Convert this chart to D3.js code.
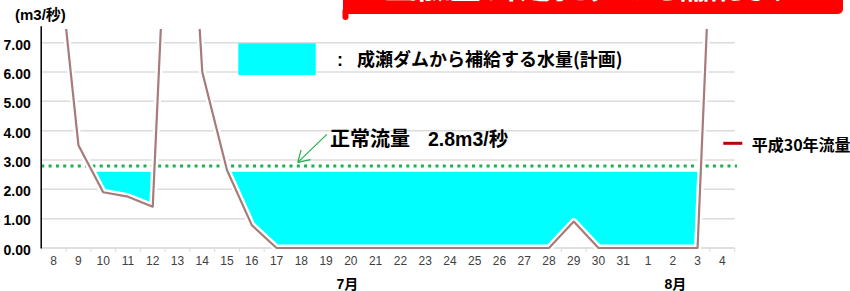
<!DOCTYPE html>
<html>
<head>
<meta charset="utf-8">
<script src="https://cdn.jsdelivr.net/npm/d3@7"></script>
<style>
  body { margin: 0; background: #fff; }
  svg { display: block; }
</style>
</head>
<body>
<script>
// categories: July 8 .. Aug 4
const days = ["8","9","10","11","12","13","14","15","16","17","18","19","20","21","22",
              "23","24","25","26","27","28","29","30","31","1","2","3","4"];
// H30 river flow (m3/s), values above the plot are clipped
const flow = [11.5, 3.5, 1.9, 1.75, 1.41, 20, 6.0, 2.65, 0.78, 0,
              0, 0, 0, 0, 0, 0, 0, 0, 0, 0,
              0, 0.9, 0, 0, 0, 0, 0, 20];
const yTicks = [0, 1, 2, 3, 4, 5, 6, 7];
const normalFlow = 2.8;
const supplyLevel = 2.6;
// planned supply periods (start day, end day)
const supplyRanges = [["9", "12"], ["15", "3"]];
const months = [{label: "7月", day: "20"}, {label: "8月", day: "2"}];

const W = 850, H = 291;
const jp = "'Liberation Sans', 'Noto Sans CJK JP', sans-serif";

const svg = d3.select("body").append("svg")
    .attr("width", W)
    .attr("height", H);

const x = d3.scaleBand().domain(days).range([41.3, 734.7]).padding(0);
const cx = d => x(d) + x.bandwidth() / 2;
const y = d3.scaleLinear().domain([0, 7.58]).range([248, 25.7]);

// banner at top (mostly cut off)
svg.append("rect")
    .attr("x", 343).attr("y", -12)
    .attr("width", 500).attr("height", 26)
    .attr("rx", 5)
    .attr("fill", "#ff0000");
svg.append("rect")
    .attr("x", 342.5).attr("y", 8)
    .attr("width", 6).attr("height", 12)
    .attr("rx", 3)
    .attr("fill", "#ff0000");
svg.append("text")
    .attr("x", 590).attr("y", -1.5)
    .attr("text-anchor", "middle")
    .attr("textLength", 410)
    .attr("font-family", jp)
    .attr("font-weight", "bold")
    .attr("font-size", 28)
    .attr("fill", "#fff")
    .text("正常流量の不足分をダムから補給します");

// gridlines
svg.append("g")
    .selectAll("line")
    .data(yTicks.filter(d => d > 0))
    .join("line")
    .attr("x1", 41.3).attr("x2", 734.7)
    .attr("y1", d => y(d)).attr("y2", d => y(d))
    .attr("stroke", "#dcdcdc")
    .attr("stroke-width", 1.5);

// x axis base line + boundary ticks
svg.append("line")
    .attr("x1", 41.3).attr("x2", 734.7)
    .attr("y1", y(0)).attr("y2", y(0))
    .attr("stroke", "#d4d4d4")
    .attr("stroke-width", 1.5);
svg.append("g")
    .selectAll("line")
    .data(days.slice(1).concat(["end"]))
    .join("line")
    .attr("x1", d => d === "end" ? x.range()[1] : x(d))
    .attr("x2", d => d === "end" ? x.range()[1] : x(d))
    .attr("y1", y(0)).attr("y2", y(0) + 4)
    .attr("stroke", "#e0e0e0")
    .attr("stroke-width", 1.2);

// supply fill: between the flow line and the supply level
const byDay = new Map(days.map((d, i) => [d, flow[i]]));
supplyRanges.forEach(([s, e]) => {
    const sub = days.slice(days.indexOf(s), days.indexOf(e) + 1);
    const pts = [];
    sub.forEach((d, i) => {
        const v = byDay.get(d);
        pts.push([cx(d), y(Math.min(v, supplyLevel))]);
        if (i < sub.length - 1) {
            const n = sub[i + 1], v2 = byDay.get(n);
            if ((v - supplyLevel) * (v2 - supplyLevel) < 0) {
                const t = (supplyLevel - v) / (v2 - v);
                pts.push([cx(d) + t * (cx(n) - cx(d)), y(supplyLevel)]);
            }
        }
    });
    pts.push([cx(e), y(supplyLevel)]);
    pts.push([cx(s), y(supplyLevel)]);
    svg.append("path")
        .attr("d", d3.line()(pts) + "Z")
        .attr("fill", "#00ffff");
});

// normal flow dotted line
svg.append("line")
    .attr("x1", 41.3).attr("x2", 737)
    .attr("y1", y(normalFlow)).attr("y2", y(normalFlow))
    .attr("stroke", "#1db04f")
    .attr("stroke-width", 3)
    .attr("stroke-dasharray", "3,4.3");

// flow line (clipped at top)
svg.append("clipPath").attr("id", "plotclip")
    .append("rect")
    .attr("x", 41.3).attr("y", 29)
    .attr("width", 700).attr("height", 230);

const line = d3.line()
    .x((d, i) => cx(days[i]))
    .y(d => y(d));

const lg = svg.append("g").attr("clip-path", "url(#plotclip)");
lg.append("path")
    .datum(flow)
    .attr("d", line)
    .attr("fill", "none")
    .attr("stroke", "#fff")
    .attr("stroke-width", 7)
    .attr("stroke-linejoin", "round");
lg.append("path")
    .datum(flow)
    .attr("d", line)
    .attr("fill", "none")
    .attr("stroke", "#a87a7a")
    .attr("stroke-width", 2.2)
    .attr("stroke-linejoin", "round");

// y axis
const yAxis = svg.append("g")
    .attr("transform", "translate(40.7,0)")
    .call(d3.axisLeft(y).tickValues(yTicks).tickFormat(d3.format(".2f"))
        .tickSize(0).tickPadding(10));
yAxis.select(".domain").attr("stroke", "#000").attr("stroke-width", 1.5);
yAxis.selectAll("text")
    .attr("font-family", "'Liberation Sans', Arial, sans-serif")
    .attr("font-weight", "bold")
    .attr("font-size", 14)
    .attr("fill", "#000")
    .attr("dy", "0.45em");

svg.append("text")
    .attr("x", 15).attr("y", 20)
    .attr("font-family", jp)
    .attr("font-weight", "bold")
    .attr("font-size", 15)
    .attr("fill", "#000")
    .text("(m3/秒)");

// x axis labels
const xAxis = svg.append("g")
    .attr("transform", `translate(0,${y(0)})`)
    .call(d3.axisBottom(x).tickSize(0).tickPadding(8));
xAxis.select(".domain").remove();
xAxis.selectAll("text")
    .attr("font-family", "'Liberation Sans', Arial, sans-serif")
    .attr("font-size", 12)
    .attr("fill", "#404040");

// month labels
svg.selectAll(".month")
    .data(months)
    .join("text")
    .attr("class", "month")
    .attr("x", (d, i) => cx(d.day) + (i === 0 ? -3.5 : 2.5))
    .attr("y", 289)
    .attr("text-anchor", "middle")
    .attr("font-family", jp)
    .attr("font-weight", "bold")
    .attr("font-size", 14)
    .attr("fill", "#000")
    .text(d => d.label);

// legend: planned supply
svg.append("rect")
    .attr("x", 238.3).attr("y", 43.3)
    .attr("width", 77.4).attr("height", 31.7)
    .attr("fill", "#00ffff");
svg.append("text")
    .attr("x", 337).attr("y", 66)
    .attr("font-family", jp)
    .attr("font-weight", "bold")
    .attr("font-size", 18)
    .attr("fill", "#000")
    .text(":");
svg.append("text")
    .attr("x", 357).attr("y", 66)
    .attr("font-family", "'Noto Sans CJK JP', sans-serif")
    .attr("font-weight", "bold")
    .attr("font-size", 18)
    .attr("fill", "#000")
    .text("成瀬ダムから補給する水量(計画)");

// normal flow annotation + arrow
const tip = [cx("18") - 3.5, y(normalFlow) - 3.5];
const tail = [tip[0] + 29, tip[1] - 28];
const ang = Math.atan2(tail[1] - tip[1], tail[0] - tip[0]);
const arrow = svg.append("g").attr("stroke", "#22b04c").attr("stroke-width", 1.2).attr("fill", "none");
arrow.append("line")
    .attr("x1", tail[0]).attr("y1", tail[1])
    .attr("x2", tip[0]).attr("y2", tip[1]);
[-0.55, 0.55].forEach(a => {
    arrow.append("line")
        .attr("x1", tip[0]).attr("y1", tip[1])
        .attr("x2", tip[0] + 13 * Math.cos(ang + a))
        .attr("y2", tip[1] + 13 * Math.sin(ang + a));
});
svg.append("text")
    .attr("x", 330).attr("y", 146)
    .attr("font-family", "'Noto Sans CJK JP', sans-serif")
    .attr("font-weight", "bold")
    .attr("font-size", 20)
    .attr("fill", "#000")
    .text("正常流量");
svg.append("text")
    .attr("x", 428).attr("y", 146)
    .attr("font-family", jp)
    .attr("font-weight", "bold")
    .attr("font-size", 19.5)
    .attr("fill", "#000")
    .text("2.8m3/秒");

// legend: H30 flow
svg.append("line")
    .attr("x1", 723.3).attr("x2", 742.3)
    .attr("y1", 143.3).attr("y2", 143.3)
    .attr("stroke", "#c00000")
    .attr("stroke-width", 3);
svg.append("text")
    .attr("x", 751.7).attr("y", 150.5)
    .attr("font-family", "'Noto Sans CJK JP', sans-serif")
    .attr("font-weight", "bold")
    .attr("font-size", 16)
    .attr("fill", "#000")
    .text("平成30年流量");
</script>
</body>
</html>
